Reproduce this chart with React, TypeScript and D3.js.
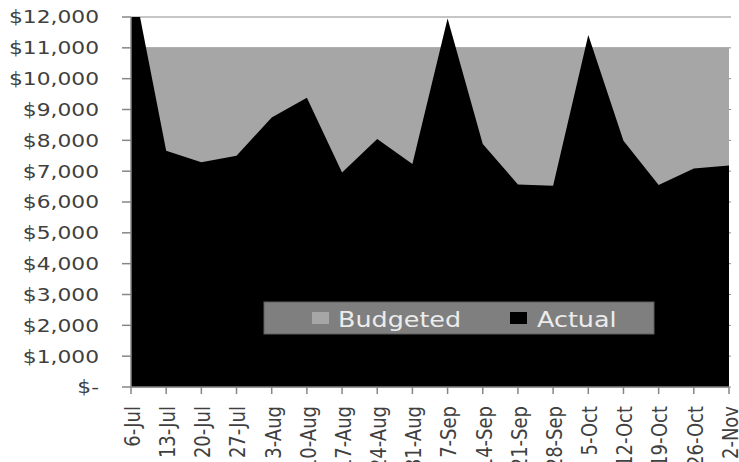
import React from "react";
import * as d3 from "d3";

const categories = ["6-Jul","13-Jul","20-Jul","27-Jul","3-Aug","10-Aug","17-Aug","24-Aug","31-Aug","7-Sep","14-Sep","21-Sep","28-Sep","5-Oct","12-Oct","19-Oct","26-Oct","2-Nov"];
const budgeted = [11000,11000,11000,11000,11000,11000,11000,11000,11000,11000,11000,11000,11000,11000,11000,11000,11000,11000];
const actual = [13500,7660,7290,7500,8740,9380,6960,8040,7230,11950,7880,6570,6530,11420,7990,6550,7090,7180];
const yTicks = [0,1000,2000,3000,4000,5000,6000,7000,8000,9000,10000,11000,12000];

const W = 739, H = 462;
const SX = 1.21;
const FONT = "'DejaVu Sans', Verdana, sans-serif";

export default function App() {
  const left = 131, right = 729, top = 17, bottom = 387;
  const x = d3.scalePoint<string>().domain(categories).range([left, right]);
  const y = d3.scaleLinear().domain([0, 12000]).range([bottom, top]);
  const fmt = (v: number) => (v === 0 ? "$-" : "$" + d3.format(",")(v));

  const areaGen = d3.area<number>()
    .x((_, i) => x(categories[i]) as number)
    .y0(y(0))
    .y1((d) => y(d));

  return (
    <svg width={W} height={H} style={{ position: "absolute", left: 0, top: 0, display: "block", background: "#fff" }}>
      <defs>
        <clipPath id="plot">
          <rect x={left} y={top} width={right - left + 2} height={bottom - top} />
        </clipPath>
      </defs>
      {yTicks.map((t) => (
        <line key={"g" + t} x1={left} x2={right + 2} y1={y(t)} y2={y(t)} stroke="#8c8c8c" strokeWidth={1} />
      ))}
      <g clipPath="url(#plot)">
        <path d={areaGen(budgeted) || ""} fill="#a6a6a6" />
        <path d={areaGen(actual) || ""} fill="#000" />
      </g>
      {/* axes */}
      <line x1={left} x2={left} y1={top} y2={bottom} stroke="#868686" strokeWidth={1.5} />
      <line x1={left} x2={right} y1={bottom} y2={bottom} stroke="#868686" strokeWidth={1.5} />
      {yTicks.map((t) => (
        <g key={"y" + t}>
          <line x1={left - 9} x2={left} y1={y(t)} y2={y(t)} stroke="#868686" strokeWidth={1.5} />
          <text
            transform={`translate(99,${y(t)}) scale(${SX},1)`}
            textAnchor="end"
            dy="0.36em"
            fontFamily={FONT}
            fontSize={18}
            fill="#404040"
          >
            {fmt(t)}
          </text>
        </g>
      ))}
      {categories.map((c) => (
        <g key={"x" + c}>
          <line x1={x(c)} x2={x(c)} y1={bottom} y2={bottom + 7} stroke="#868686" strokeWidth={1.5} />
          <text
            transform={`translate(${(x(c) as number) + 1},406) scale(${SX},1) rotate(-90)`}
            textAnchor="end"
            dy="0.36em"
            fontFamily={FONT}
            fontSize={18}
            fill="#404040"
          >
            {c}
          </text>
        </g>
      ))}
      {/* legend */}
      <rect x={264} y={302} width={390} height={32} fill="#7f7f7f" stroke="#5f5f5f" strokeWidth={1} />
      <rect x={312} y={312} width={17} height={12} fill="#a6a6a6" />
      <text transform={`translate(338,327) scale(${SX},1)`} fontFamily={FONT} fontSize={21} fill="#ececec">Budgeted</text>
      <rect x={510} y={312} width={17} height={12} fill="#000" />
      <text transform={`translate(537,327) scale(${SX},1)`} fontFamily={FONT} fontSize={21} fill="#ececec">Actual</text>
    </svg>
  );
}
